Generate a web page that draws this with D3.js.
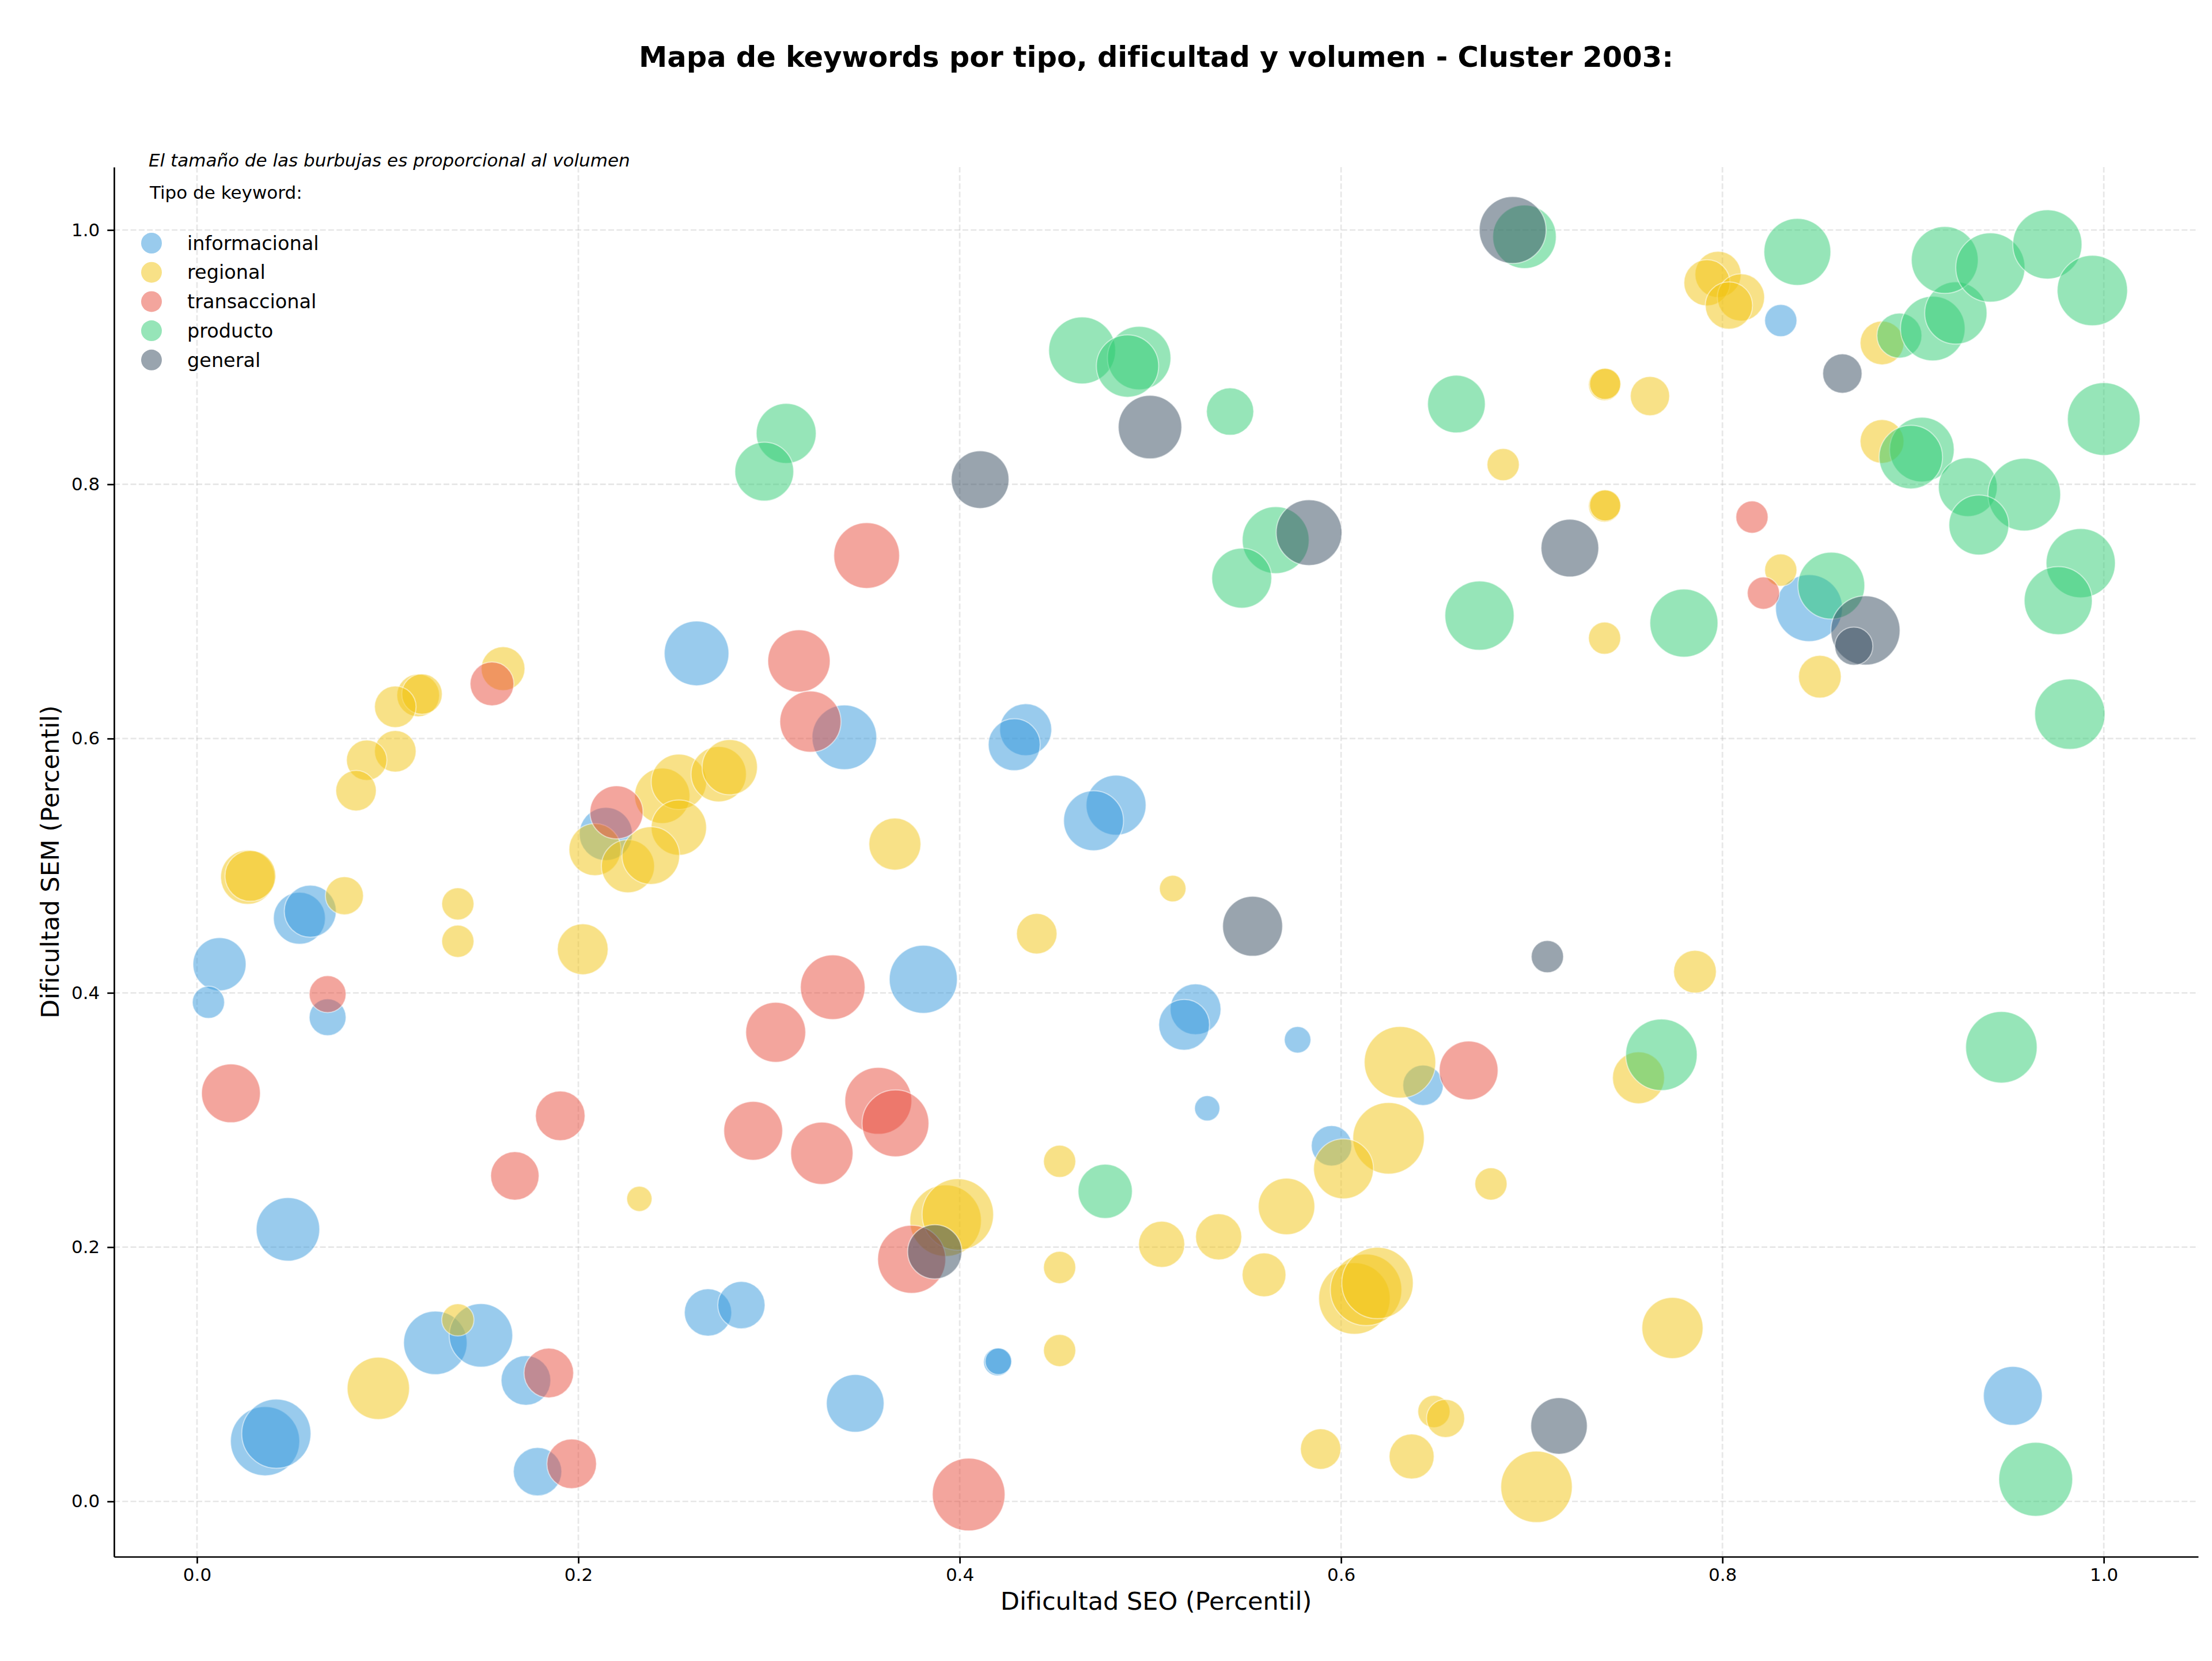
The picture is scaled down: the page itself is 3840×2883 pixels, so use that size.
<!DOCTYPE html>
<html lang="es">
<head>
<meta charset="utf-8">
<title>Mapa de keywords por tipo, dificultad y volumen</title>
<script src="https://cdn.jsdelivr.net/npm/d3@7"></script>
<style>
  body { margin: 0; background: #fff; }
  text { font-family: "DejaVu Sans", sans-serif; fill: #000; }
</style>
</head>
<body>
<script>

// Cada punto: [dificultad SEO, dificultad SEM, volumen]
const informacional = [
  [0.2144, 0.525, 2120], [0.262, 0.667, 3140], [0.0118, 0.4225, 2120], [0.006, 0.3926, 780],
  [0.0537, 0.4587, 2030], [0.0594, 0.4642, 2030], [0.0685, 0.3808, 1020], [0.0477, 0.214, 3030],
  [0.125, 0.1247, 3030], [0.1489, 0.1306, 3030], [0.1725, 0.0952, 1850], [0.0357, 0.0474, 3600],
  [0.0416, 0.0533, 3600], [0.1786, 0.0234, 1760], [0.268, 0.1486, 1680], [0.2855, 0.1544, 1680],
  [0.3809, 0.4107, 3480], [0.5237, 0.3871, 1940], [0.5177, 0.3749, 1940], [0.5772, 0.3631, 530],
  [0.5298, 0.3092, 480], [0.4198, 0.1097, 580], [0.4203, 0.1102, 530], [0.3452, 0.0771, 2500],
  [0.643, 0.3273, 1230], [0.595, 0.2797, 1230], [0.9523, 0.083, 2600], [0.3395, 0.601, 3140],
  [0.4346, 0.607, 2030], [0.4286, 0.5952, 2030], [0.482, 0.5476, 2700], [0.4702, 0.5354, 2700],
  [0.8306, 0.9288, 780], [0.8454, 0.7026, 3360]
];

const regional = [
  [0.1605, 0.655, 1440], [0.116, 0.634, 1370], [0.118, 0.635, 1230], [0.104, 0.625, 1300],
  [0.104, 0.590, 1300], [0.089, 0.583, 1230], [0.0834, 0.559, 1230], [0.0266, 0.491, 2210],
  [0.028, 0.492, 1940], [0.2087, 0.5127, 2030], [0.244, 0.555, 2300], [0.2527, 0.566, 2300],
  [0.2736, 0.572, 2300], [0.2794, 0.5775, 2300], [0.2527, 0.530, 2300], [0.226, 0.4996, 2120],
  [0.238, 0.508, 2500], [0.0773, 0.4764, 1090], [0.1368, 0.470, 780], [0.1368, 0.4406, 780],
  [0.2023, 0.4343, 1940], [0.232, 0.238, 480], [0.1368, 0.1428, 780], [0.0951, 0.0889, 2920],
  [0.366, 0.517, 2030], [0.5117, 0.482, 530], [0.4404, 0.4465, 1230], [0.4524, 0.2675, 780],
  [0.3926, 0.2208, 3840], [0.399, 0.2257, 3840], [0.4524, 0.184, 780], [0.5059, 0.2022, 1600],
  [0.5358, 0.2081, 1600], [0.5596, 0.1782, 1440], [0.5714, 0.232, 2400], [0.4524, 0.1187, 780],
  [0.6309, 0.3454, 3840], [0.6249, 0.2856, 3840], [0.6013, 0.2616, 2700], [0.6786, 0.2497, 780],
  [0.607, 0.1596, 3840], [0.6131, 0.1664, 3840], [0.6191, 0.1718, 3840], [0.6487, 0.0707, 780],
  [0.6548, 0.0653, 1090], [0.5893, 0.0412, 1230], [0.637, 0.0353, 1520], [0.7025, 0.0115, 3840],
  [0.7856, 0.4167, 1370], [0.756, 0.3332, 2030], [0.7738, 0.1364, 2810], [0.7977, 0.9651, 1600],
  [0.7919, 0.9585, 1600], [0.8097, 0.947, 1680], [0.8034, 0.9406, 1680], [0.7382, 0.8785, 780],
  [0.7385, 0.879, 730], [0.762, 0.8694, 1160], [0.8837, 0.9112, 1440], [0.685, 0.8155, 780],
  [0.7382, 0.7829, 780], [0.7385, 0.7834, 730], [0.7382, 0.679, 780], [0.8306, 0.7325, 780],
  [0.8511, 0.6487, 1370], [0.8837, 0.8337, 1440]
];

const transaccional = [
  [0.3157, 0.661, 2920], [0.3217, 0.6133, 2810], [0.1547, 0.643, 1440], [0.220, 0.542, 2120],
  [0.0685, 0.399, 1020], [0.0178, 0.321, 2600], [0.1905, 0.3033, 1850], [0.1667, 0.256, 1760],
  [0.3035, 0.369, 2700], [0.3334, 0.4044, 3140], [0.2917, 0.2915, 2600], [0.3277, 0.2738, 2920],
  [0.1845, 0.101, 1850], [0.1965, 0.0296, 1850], [0.3573, 0.3151, 3360], [0.3663, 0.2974, 3360],
  [0.3748, 0.1904, 3480], [0.4047, 0.0054, 3970], [0.6669, 0.339, 2600], [0.3512, 0.744, 3250],
  [0.8155, 0.7742, 780], [0.8215, 0.7144, 780]
];

const producto = [
  [0.309, 0.840, 2700], [0.2975, 0.810, 2600], [0.4763, 0.2439, 2210], [0.768, 0.3513, 3840],
  [0.9463, 0.3572, 3840], [0.9643, 0.0174, 4100], [0.6962, 0.9947, 3030], [0.4642, 0.9053, 3360],
  [0.4941, 0.8993, 3030], [0.488, 0.893, 2920], [0.5418, 0.8572, 1680], [0.6605, 0.8631, 2500],
  [0.5657, 0.7561, 3360], [0.5479, 0.7262, 2700], [0.6726, 0.6967, 3600], [0.8393, 0.9828, 3360],
  [0.8928, 0.917, 1520], [0.9103, 0.9225, 3140], [0.9224, 0.9347, 2920], [0.9166, 0.9764, 3360],
  [0.9405, 0.9705, 3600], [0.9704, 0.9887, 3600], [0.994, 0.9524, 3720], [1.0, 0.8513, 3970],
  [0.7798, 0.6908, 3480], [0.8571, 0.7203, 3360], [0.9046, 0.8273, 3140], [0.8988, 0.8214, 3030],
  [0.9287, 0.7978, 2600], [0.9583, 0.7919, 3970], [0.9345, 0.768, 2700], [0.9879, 0.738, 3600],
  [0.9761, 0.7085, 3480], [0.9822, 0.6192, 3720]
];

const general = [
  [0.690, 1.0, 3360], [0.4998, 0.845, 3030], [0.4107, 0.8037, 2500], [0.5832, 0.762, 3250],
  [0.5536, 0.4524, 2700], [0.3869, 0.1963, 2210], [0.7082, 0.4285, 780], [0.7143, 0.0594, 2400],
  [0.8629, 0.8871, 1160], [0.72, 0.7498, 2500], [0.875, 0.685, 3600], [0.8689, 0.6727, 1090]
];

const tipos = ["informacional", "regional", "transaccional", "producto", "general"];
const colores = ["#3498db", "#f1c40f", "#e74c3c", "#2ecc71", "#34495e"];
const series = [informacional, regional, transaccional, producto, general];
const ticks = [0, 0.2, 0.4, 0.6, 0.8, 1.0];

// Tamaño de la figura y del área de ejes
let w = 3840;
let h = 2883;
let margin = {top: 290, right: 24, bottom: 181, left: 198};
let x0 = margin.left, x1 = w - margin.right;
let y0 = h - margin.bottom, y1 = margin.top;

let x = d3.scaleLinear().domain([-0.0435, 1.0495]).range([x0, x1]);
let y = d3.scaleLinear().domain([-0.0435, 1.0495]).range([y0, y1]);
let r = d3.scaleSqrt().domain([0, 4100]).range([0, Math.sqrt(4100)]);
let color = d3.scaleOrdinal().domain(tipos).range(colores);

let svg = d3.select("body")
  .append("svg")
    .attr("width", w)
    .attr("height", h)
    .style("display", "block");

svg.append("rect").attr("width", w).attr("height", h).attr("fill", "#fff");

// Rejilla
let grid = svg.append("g").attr("class", "grid")
  .attr("stroke", "#b0b0b0")
  .attr("stroke-opacity", 0.3)
  .attr("stroke-width", 2.7)
  .attr("stroke-dasharray", "10,4.3");

grid.selectAll("line.v")
  .data(ticks)
  .enter()
  .append("line")
    .attr("class", "v")
    .attr("x1", d => x(d)).attr("x2", d => x(d))
    .attr("y1", y0).attr("y2", y1);

grid.selectAll("line.h")
  .data(ticks)
  .enter()
  .append("line")
    .attr("class", "h")
    .attr("x1", x0).attr("x2", x1)
    .attr("y1", d => y(d)).attr("y2", d => y(d));

// Burbujas, una serie por tipo
series.forEach((pts, i) => {
  svg.append("g")
    .attr("class", "serie")
    .selectAll("circle")
    .data(pts)
    .enter()
    .append("circle")
      .attr("cx", d => x(d[0]))
      .attr("cy", d => y(d[1]))
      .attr("r", d => r(d[2]))
      .attr("fill", color(tipos[i]))
      .attr("fill-opacity", 0.5)
      .attr("stroke", "#fff")
      .attr("stroke-opacity", 0.5)
      .attr("stroke-width", 2);
});

// Ejes
let fmt = d3.format(".1f");

let xAxis = svg.append("g")
  .attr("transform", `translate(0,${y0})`)
  .call(d3.axisBottom(x).tickValues(ticks).tickFormat(fmt).tickSize(11.7).tickSizeOuter(0).tickPadding(8.5));

let yAxis = svg.append("g")
  .attr("transform", `translate(${x0},0)`)
  .call(d3.axisLeft(y).tickValues(ticks).tickFormat(fmt).tickSize(11.7).tickSizeOuter(0).tickPadding(13));

[xAxis, yAxis].forEach(a => {
  a.attr("font-family", "DejaVu Sans").attr("font-size", 31);
  a.select(".domain").attr("stroke", "#000").attr("stroke-width", 2.7);
  a.selectAll(".tick line").attr("stroke", "#000").attr("stroke-width", 2.7);
});

// Títulos de ejes
svg.append("text")
  .attr("x", (x0 + x1) / 2)
  .attr("y", 2794)
  .attr("text-anchor", "middle")
  .attr("font-size", 43)
  .text("Dificultad SEO (Percentil)");

svg.append("text")
  .attr("transform", `translate(102,${(y0 + y1) / 2}) rotate(-90)`)
  .attr("text-anchor", "middle")
  .attr("font-size", 43)
  .text("Dificultad SEM (Percentil)");

// Título
svg.append("text")
  .attr("x", (x0 + x1) / 2)
  .attr("y", 116)
  .attr("text-anchor", "middle")
  .attr("font-size", 49.5)
  .attr("font-weight", "bold")
  .text("Mapa de keywords por tipo, dificultad y volumen - Cluster 2003:");

// Nota y leyenda
svg.append("text")
  .attr("x", 258)
  .attr("y", 289)
  .attr("font-size", 31)
  .attr("font-style", "italic")
  .text("El tamaño de las burbujas es proporcional al volumen");

svg.append("text")
  .attr("x", 260)
  .attr("y", 345)
  .attr("font-size", 31)
  .text("Tipo de keyword:");

let legend = svg.selectAll("g.leg")
  .data(tipos)
  .enter()
  .append("g")
    .attr("class", "leg")
    .attr("transform", (d, i) => `translate(263,${422 + i * 50.7})`);

legend.append("circle")
  .attr("r", 18)
  .attr("fill", d => color(d))
  .attr("fill-opacity", 0.5);

legend.append("text")
  .attr("x", 62)
  .attr("dy", "0.35em")
  .attr("font-size", 33.5)
  .text(d => d);

</script>
</body>
</html>
